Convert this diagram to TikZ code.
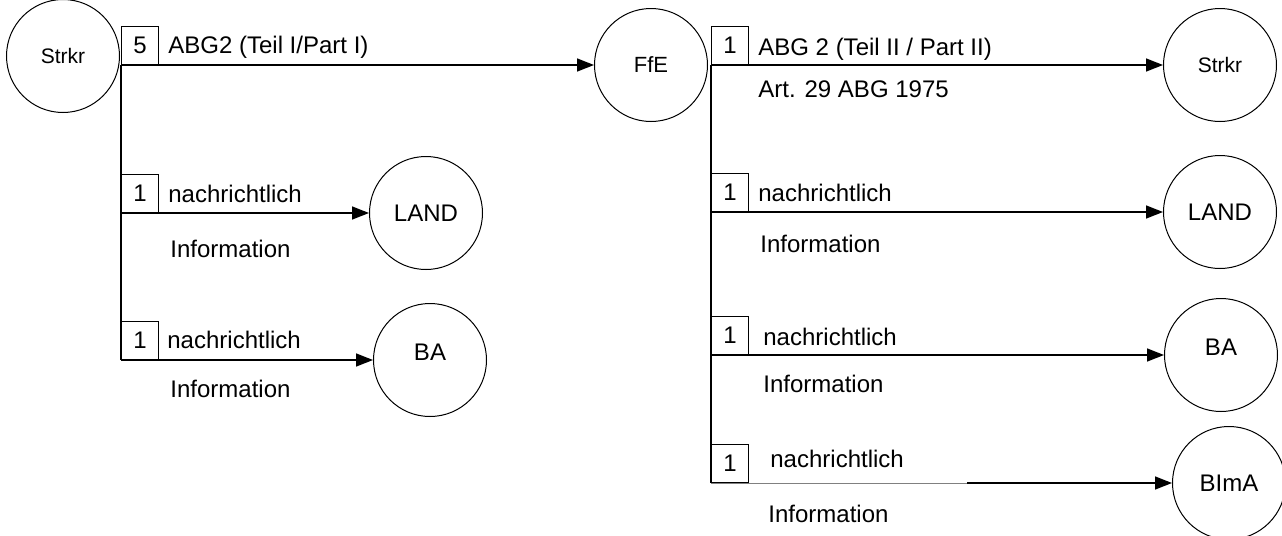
\documentclass[tikz,border=0pt]{standalone}
\usepackage{fontspec}
\setmainfont{Liberation Sans}
\usetikzlibrary{arrows.meta, positioning}

\begin{document}
\begin{tikzpicture}[x=0.5pt, y=-0.5pt]
	\tikzset {>={Triangle[length=8.5pt, width=6.5pt]}, every node/.style={font=\fontsize{12}{14}\selectfont},
		stelle/.style={circle, draw, line width=0.5pt, minimum size=56.5pt, inner sep=0pt},
		anzahl/.style={draw, line width=0.6pt, minimum width=18.5pt, minimum height=19pt, inner sep=0pt, anchor=south west},
		txt/.style={anchor=base west, inner sep=0pt},
		weg/.style={line width=0.75pt} }
	\useasboundingbox (0,0) rectangle (1282,536);

	% stellen
	\node[stelle, font=\fontsize{10.5}{12}\selectfont] (s1) at (63,56) {Strkr};
	\node[stelle, font=\fontsize{11}{13}\selectfont] (ffe) at (651,65) {FfE};
	\node[stelle, font=\fontsize{10.5}{12}\selectfont] (s2) at (1220,65) {Strkr};
	\node[stelle] (land1) at (426,213) {LAND};
	\node[stelle, text depth=8pt] (ba1) at (430,360) {BA};
	\node[stelle] (land2) at (1220,212) {LAND};
	\node[stelle, text depth=8pt] (ba2) at (1221,355) {BA};
	\node[stelle] (bima) at (1229,483) {BImA};

	% verteiler
	\coordinate (a0) at (121,65);
	\coordinate (a1) at (121,213);
	\coordinate (a2) at (121,360);
	\coordinate (b0) at (711,65);
	\coordinate (b1) at (711,212);
	\coordinate (b2) at (711,355);
	\coordinate (b3) at (711,483);
	\coordinate (b3m) at (967,483);

	\node[anzahl] (n0) at (a0) {5};
	\node[anzahl] (n1) at (a1) {1};
	\node[anzahl] (n2) at (a2) {1};
	\node[anzahl] (m0) at (b0) {1};
	\node[anzahl] (m1) at (b1) {1};
	\node[anzahl] (m2) at (b2) {1};
	\node[anzahl] (m3) at (b3) {1};

	\node[txt] (t0) at (168,53) {ABG2 (Teil I/Part I)};
	\node[txt] (t1) at (168,202) {nachrichtlich};
	\node[txt] (i1) at (170,257) {Information};
	\node[txt] (t2) at (167,348) {nachrichtlich};
	\node[txt] (i2) at (170,397) {Information};
	\node[txt] (u0) at (758,55) {ABG 2 (Teil II / Part II)};
	\node[txt] (w0) at (758,97) {Art. 29 ABG 1975};
	\node[txt] (u1) at (758,201) {nachrichtlich};
	\node[txt] (v1) at (760,252) {Information};
	\node[txt] (u2) at (763,345) {nachrichtlich};
	\node[txt] (v2) at (763,392) {Information};
	\node[txt] (u3) at (770,467) {nachrichtlich};
	\node[txt] (v3) at (768,522) {Information};

	\draw[weg] (a0) -- (a2);
	\draw[weg] (b0) -- (b3);
	\draw[line width=0.4pt, gray] (b3) -- (b3m);

	\draw[weg]
		(a0) edge[->] (ffe)
		(a1) edge[->] (land1)
		(a2) edge[->] (ba1)
		(b0) edge[->] (s2)
		(b1) edge[->] (land2)
		(b2) edge[->] (ba2)
		(b3m) edge[->] (bima);
\end{tikzpicture}
\end{document}
